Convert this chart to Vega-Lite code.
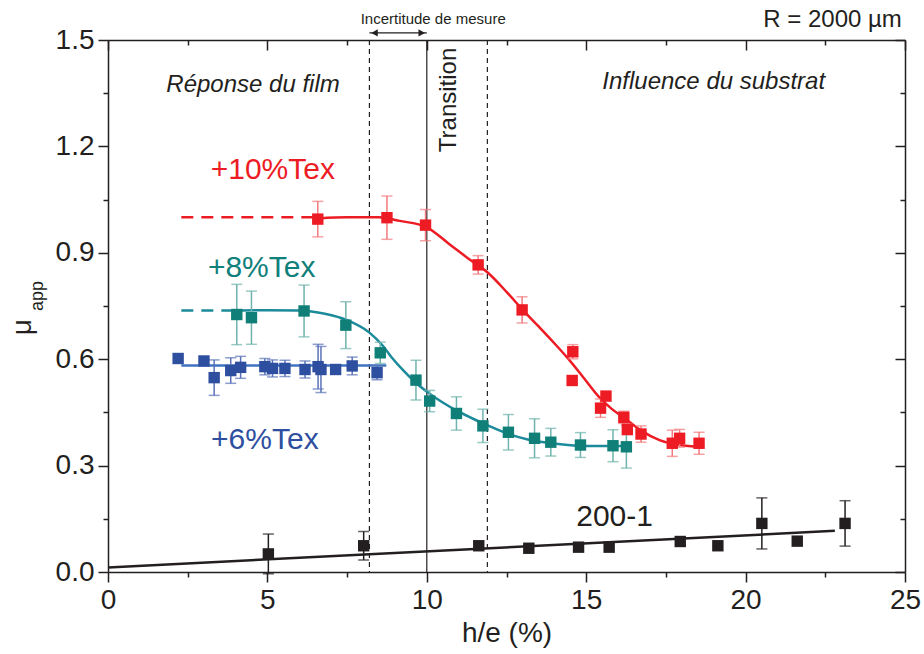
{
  "$schema": "https://vega.github.io/schema/vega-lite/v6.json",
  "width": 797,
  "height": 532,
  "autosize": {"type": "none"},
  "padding": {"left": 108, "top": 40, "right": 19, "bottom": 82},
  "background": "white",
  "config": {
    "font": "Liberation Sans",
    "view": {"stroke": null},
    "axis": {"grid": false, "domainColor": "#231f20", "tickColor": "#231f20", "domainWidth": 1.5, "tickWidth": 1.5, "labelColor": "#231f20", "titleColor": "#231f20", "labelFont": "Liberation Sans", "titleFont": "Liberation Sans", "titleFontWeight": "normal"}
  },
  "datasets": {
    "points": [
      {"s": "10", "x": 6.58, "y": 0.995}, {"s": "10", "x": 8.75, "y": 0.999}, {"s": "10", "x": 9.96, "y": 0.978},
      {"s": "10", "x": 11.61, "y": 0.866}, {"s": "10", "x": 12.99, "y": 0.739}, {"s": "10", "x": 14.58, "y": 0.621},
      {"s": "10", "x": 14.56, "y": 0.540}, {"s": "10", "x": 15.62, "y": 0.496}, {"s": "10", "x": 15.45, "y": 0.462},
      {"s": "10", "x": 16.18, "y": 0.436}, {"s": "10", "x": 16.29, "y": 0.402}, {"s": "10", "x": 16.72, "y": 0.389},
      {"s": "10", "x": 17.70, "y": 0.363}, {"s": "10", "x": 17.93, "y": 0.377}, {"s": "10", "x": 18.54, "y": 0.363},
      {"s": "8", "x": 4.04, "y": 0.726}, {"s": "8", "x": 4.50, "y": 0.717}, {"s": "8", "x": 6.15, "y": 0.736},
      {"s": "8", "x": 7.46, "y": 0.696}, {"s": "8", "x": 8.54, "y": 0.618}, {"s": "8", "x": 9.66, "y": 0.541},
      {"s": "8", "x": 10.09, "y": 0.482}, {"s": "8", "x": 10.93, "y": 0.447}, {"s": "8", "x": 11.76, "y": 0.412},
      {"s": "8", "x": 12.56, "y": 0.394}, {"s": "8", "x": 13.38, "y": 0.377}, {"s": "8", "x": 13.89, "y": 0.366},
      {"s": "8", "x": 14.82, "y": 0.358}, {"s": "8", "x": 15.84, "y": 0.356}, {"s": "8", "x": 16.26, "y": 0.353},
      {"s": "6", "x": 2.20, "y": 0.602}, {"s": "6", "x": 3.01, "y": 0.595}, {"s": "6", "x": 3.33, "y": 0.548},
      {"s": "6", "x": 3.85, "y": 0.568}, {"s": "6", "x": 4.16, "y": 0.577}, {"s": "6", "x": 4.92, "y": 0.579},
      {"s": "6", "x": 5.16, "y": 0.574}, {"s": "6", "x": 5.55, "y": 0.574}, {"s": "6", "x": 6.18, "y": 0.571},
      {"s": "6", "x": 6.59, "y": 0.579}, {"s": "6", "x": 6.68, "y": 0.571}, {"s": "6", "x": 7.14, "y": 0.571},
      {"s": "6", "x": 7.66, "y": 0.581}, {"s": "6", "x": 8.44, "y": 0.562},
      {"s": "b", "x": 5.03, "y": 0.051}, {"s": "b", "x": 8.02, "y": 0.074}, {"s": "b", "x": 11.63, "y": 0.074},
      {"s": "b", "x": 13.2, "y": 0.067}, {"s": "b", "x": 14.76, "y": 0.070}, {"s": "b", "x": 15.72, "y": 0.070},
      {"s": "b", "x": 17.95, "y": 0.086}, {"s": "b", "x": 19.13, "y": 0.074}, {"s": "b", "x": 20.51, "y": 0.137},
      {"s": "b", "x": 21.62, "y": 0.087}, {"s": "b", "x": 23.12, "y": 0.137}
    ],
    "errs": [
      {"s": "10e", "x": 6.58, "lo": 0.945, "hi": 1.045}, {"s": "10e", "x": 8.75, "lo": 0.938, "hi": 1.060},
      {"s": "10e", "x": 9.96, "lo": 0.934, "hi": 1.022}, {"s": "10e", "x": 11.61, "lo": 0.840, "hi": 0.892},
      {"s": "10e", "x": 12.99, "lo": 0.702, "hi": 0.776}, {"s": "10e", "x": 14.58, "lo": 0.601, "hi": 0.641},
      {"s": "10e", "x": 14.56, "lo": 0.530, "hi": 0.550}, {"s": "10e", "x": 15.45, "lo": 0.436, "hi": 0.488},
      {"s": "10e", "x": 16.18, "lo": 0.419, "hi": 0.453}, {"s": "10e", "x": 16.29, "lo": 0.387, "hi": 0.417},
      {"s": "10e", "x": 16.72, "lo": 0.366, "hi": 0.412}, {"s": "10e", "x": 17.70, "lo": 0.326, "hi": 0.400},
      {"s": "10e", "x": 17.93, "lo": 0.352, "hi": 0.402}, {"s": "10e", "x": 18.54, "lo": 0.332, "hi": 0.394},
      {"s": "8e", "x": 4.04, "lo": 0.641, "hi": 0.811}, {"s": "8e", "x": 4.50, "lo": 0.642, "hi": 0.792},
      {"s": "8e", "x": 6.15, "lo": 0.663, "hi": 0.809}, {"s": "8e", "x": 7.46, "lo": 0.630, "hi": 0.762},
      {"s": "8e", "x": 8.54, "lo": 0.588, "hi": 0.648}, {"s": "8e", "x": 9.66, "lo": 0.485, "hi": 0.597},
      {"s": "8e", "x": 10.09, "lo": 0.452, "hi": 0.512}, {"s": "8e", "x": 10.93, "lo": 0.400, "hi": 0.494},
      {"s": "8e", "x": 11.76, "lo": 0.365, "hi": 0.459}, {"s": "8e", "x": 12.56, "lo": 0.344, "hi": 0.444},
      {"s": "8e", "x": 13.38, "lo": 0.322, "hi": 0.432}, {"s": "8e", "x": 13.89, "lo": 0.327, "hi": 0.405},
      {"s": "8e", "x": 14.82, "lo": 0.323, "hi": 0.393}, {"s": "8e", "x": 15.84, "lo": 0.311, "hi": 0.401},
      {"s": "8e", "x": 16.26, "lo": 0.293, "hi": 0.413},
      {"s": "6e", "x": 3.33, "lo": 0.498, "hi": 0.598}, {"s": "6e", "x": 3.85, "lo": 0.532, "hi": 0.604},
      {"s": "6e", "x": 4.16, "lo": 0.546, "hi": 0.608}, {"s": "6e", "x": 4.92, "lo": 0.556, "hi": 0.602},
      {"s": "6e", "x": 5.16, "lo": 0.550, "hi": 0.598}, {"s": "6e", "x": 5.55, "lo": 0.551, "hi": 0.597},
      {"s": "6e", "x": 6.18, "lo": 0.547, "hi": 0.595}, {"s": "6e", "x": 6.59, "lo": 0.516, "hi": 0.642},
      {"s": "6e", "x": 6.68, "lo": 0.506, "hi": 0.636}, {"s": "6e", "x": 7.14, "lo": 0.561, "hi": 0.581},
      {"s": "6e", "x": 7.66, "lo": 0.556, "hi": 0.606}, {"s": "6e", "x": 8.44, "lo": 0.542, "hi": 0.582},
      {"s": "be", "x": 5.03, "lo": -0.005, "hi": 0.107}, {"s": "be", "x": 8.02, "lo": 0.034, "hi": 0.114},
      {"s": "be", "x": 20.51, "lo": 0.065, "hi": 0.209}, {"s": "be", "x": 23.12, "lo": 0.073, "hi": 0.201}
    ],
    "fits": [
      {"s": "10f", "x": 6.6, "y": 0.997}, {"s": "10f", "x": 7.5, "y": 1.0}, {"s": "10f", "x": 8.5, "y": 1.0},
      {"s": "10f", "x": 9.15, "y": 0.99}, {"s": "10f", "x": 10.0, "y": 0.972}, {"s": "10f", "x": 10.7, "y": 0.925},
      {"s": "10f", "x": 11.3, "y": 0.884}, {"s": "10f", "x": 11.9, "y": 0.845}, {"s": "10f", "x": 12.5, "y": 0.79},
      {"s": "10f", "x": 13.0, "y": 0.74}, {"s": "10f", "x": 13.5, "y": 0.693}, {"s": "10f", "x": 14.0, "y": 0.645},
      {"s": "10f", "x": 14.4, "y": 0.605}, {"s": "10f", "x": 14.9, "y": 0.55}, {"s": "10f", "x": 15.4, "y": 0.494},
      {"s": "10f", "x": 15.8, "y": 0.46}, {"s": "10f", "x": 16.2, "y": 0.434}, {"s": "10f", "x": 16.7, "y": 0.4},
      {"s": "10f", "x": 17.3, "y": 0.372}, {"s": "10f", "x": 17.8, "y": 0.36}, {"s": "10f", "x": 18.2, "y": 0.355},
      {"s": "10f", "x": 18.7, "y": 0.353},
      {"s": "8f", "x": 3.95, "y": 0.737}, {"s": "8f", "x": 5.0, "y": 0.738}, {"s": "8f", "x": 6.0, "y": 0.737},
      {"s": "8f", "x": 6.8, "y": 0.728}, {"s": "8f", "x": 7.5, "y": 0.71}, {"s": "8f", "x": 8.2, "y": 0.675},
      {"s": "8f", "x": 8.6, "y": 0.64}, {"s": "8f", "x": 8.9, "y": 0.605}, {"s": "8f", "x": 9.3, "y": 0.565},
      {"s": "8f", "x": 9.7, "y": 0.53}, {"s": "8f", "x": 10.1, "y": 0.502}, {"s": "8f", "x": 10.5, "y": 0.478},
      {"s": "8f", "x": 11.0, "y": 0.452}, {"s": "8f", "x": 11.5, "y": 0.43}, {"s": "8f", "x": 12.0, "y": 0.41},
      {"s": "8f", "x": 12.6, "y": 0.388}, {"s": "8f", "x": 13.2, "y": 0.373}, {"s": "8f", "x": 13.9, "y": 0.363},
      {"s": "8f", "x": 14.6, "y": 0.357}, {"s": "8f", "x": 15.4, "y": 0.355}, {"s": "8f", "x": 16.3, "y": 0.355},
      {"s": "6f", "x": 2.3, "y": 0.582}, {"s": "6f", "x": 8.73, "y": 0.582},
      {"s": "bf", "x": 0.0, "y": 0.013}, {"s": "bf", "x": 22.8, "y": 0.116}
    ],
    "dashed": [
      {"s": "10f", "x": 2.3, "y": 1.0}, {"s": "10f", "x": 6.5, "y": 1.0},
      {"s": "8f", "x": 2.3, "y": 0.737}, {"s": "8f", "x": 3.9, "y": 0.737}
    ]
  },
  "layer": [
    {
      "data": {"values": [{"x": 0, "y": 0}]},
      "mark": {"type": "point", "opacity": 0},
      "encoding": {
        "x": {"field": "x", "type": "quantitative", "scale": {"domain": [0, 25], "nice": false, "zero": false},
          "axis": {"orient": "bottom", "values": [0, 2.5, 5, 7.5, 10, 12.5, 15, 17.5, 20, 22.5, 25],
            "labelExpr": "datum.value % 5 === 0 ? format(datum.value, 'd') : ''",
            "tickSize": {"condition": {"test": "datum.value % 5 === 0", "value": 10}, "value": 5},
            "labelFontSize": 28, "labelPadding": 4, "title": "h/e (%)", "titleFontSize": 28, "titlePadding": 5, "labelFlush": false, "labelOverlap": false}},
        "y": {"field": "y", "type": "quantitative", "scale": {"domain": [0, 1.5], "nice": false, "zero": false},
          "axis": {"orient": "left", "values": [0, 0.15, 0.3, 0.45, 0.6, 0.75, 0.9, 1.05, 1.2, 1.35, 1.5],
            "labelExpr": "abs(datum.value*10/3 - round(datum.value*10/3)) < 0.01 ? format(datum.value, '.1f') : ''",
            "tickSize": {"condition": {"test": "abs(datum.value*10/3 - round(datum.value*10/3)) < 0.01", "value": 10}, "value": 5},
            "labelFontSize": 28, "labelPadding": 4, "title": null, "labelOverlap": false, "labelFlush": false}}
      }
    },
    {
      "data": {"values": [{"x": 0, "y": 0}]},
      "mark": {"type": "point", "opacity": 0},
      "encoding": {
        "x": {"field": "x", "type": "quantitative", "scale": {"domain": [0, 25], "nice": false, "zero": false},
          "axis": {"orient": "top", "values": [0, 2.5, 5, 7.5, 10, 12.5, 15, 17.5, 20, 22.5, 25], "labels": false, "title": null,
            "tickSize": {"condition": {"test": "datum.value % 5 === 0", "value": -10}, "value": -5}}},
        "y": {"field": "y", "type": "quantitative", "scale": {"domain": [0, 1.5], "nice": false, "zero": false},
          "axis": {"orient": "right", "values": [0, 0.15, 0.3, 0.45, 0.6, 0.75, 0.9, 1.05, 1.2, 1.35, 1.5], "labels": false, "title": null,
            "tickSize": {"condition": {"test": "abs(datum.value*10/3 - round(datum.value*10/3)) < 0.01", "value": -10}, "value": -5}}}
      }
    },
    {
      "data": {"values": [{"x": 8.2}, {"x": 11.9}]},
      "mark": {"type": "rule", "color": "#231f20", "strokeWidth": 1.2, "strokeDash": [5, 4]},
      "encoding": {
        "x": {"field": "x", "type": "quantitative", "scale": {"domain": [0, 25], "nice": false, "zero": false}, "axis": null}
      }
    },
    {
      "data": {"values": [{"x": 10}]},
      "mark": {"type": "rule", "color": "#231f20", "strokeWidth": 1.2},
      "encoding": {"x": {"field": "x", "type": "quantitative", "scale": {"domain": [0, 25], "nice": false, "zero": false}, "axis": null}}
    },
    {
      "data": {"name": "fits"},
      "mark": {"type": "line", "strokeWidth": 2.5, "interpolate": "monotone"},
      "encoding": {
        "x": {"field": "x", "type": "quantitative", "scale": {"domain": [0, 25], "nice": false, "zero": false}, "axis": null},
        "y": {"field": "y", "type": "quantitative", "scale": {"domain": [0, 1.5], "nice": false, "zero": false}, "axis": null},
        "color": {"field": "s", "type": "nominal", "legend": null,
          "scale": {"domain": ["10", "8", "6", "b", "10f", "8f", "6f", "bf", "10e", "8e", "6e", "be"],
            "range": ["#ed1c24", "#0f7f77", "#2e4f9f", "#231f20", "#ed1c24", "#1b8a9a", "#3f73c2", "#231f20", "#f27a7e", "#6fb3ad", "#5a72b8", "#231f20"]}},
        "detail": {"field": "s"}
      }
    },
    {
      "data": {"name": "dashed"},
      "mark": {"type": "line", "strokeWidth": 2.5, "strokeDash": [12, 8]},
      "encoding": {
        "x": {"field": "x", "type": "quantitative", "scale": {"domain": [0, 25], "nice": false, "zero": false}, "axis": null},
        "y": {"field": "y", "type": "quantitative", "scale": {"domain": [0, 1.5], "nice": false, "zero": false}, "axis": null},
        "color": {"field": "s", "type": "nominal", "legend": null},
        "detail": {"field": "s"}
      }
    },
    {
      "data": {"name": "errs"},
      "mark": {"type": "errorbar", "ticks": true, "size": 11, "thickness": 1.5},
      "encoding": {
        "x": {"field": "x", "type": "quantitative", "scale": {"domain": [0, 25], "nice": false, "zero": false}, "axis": null},
        "y": {"field": "lo", "type": "quantitative", "scale": {"domain": [0, 1.5], "nice": false, "zero": false}, "axis": null},
        "y2": {"field": "hi"},
        "color": {"field": "s", "type": "nominal", "legend": null}
      }
    },
    {
      "data": {"name": "points"},
      "mark": {"type": "point", "shape": "square", "filled": true, "size": 130, "opacity": 1},
      "encoding": {
        "x": {"field": "x", "type": "quantitative", "scale": {"domain": [0, 25], "nice": false, "zero": false}, "axis": null},
        "y": {"field": "y", "type": "quantitative", "scale": {"domain": [0, 1.5], "nice": false, "zero": false}, "axis": null},
        "color": {"field": "s", "type": "nominal", "legend": null}
      }
    },
    {
      "data": {"values": [{"x": 8.2, "x2": 10.0, "y": 1.52}]},
      "mark": {"type": "rule", "color": "#231f20", "strokeWidth": 1.3},
      "encoding": {
        "x": {"field": "x", "type": "quantitative", "scale": {"domain": [0, 25], "nice": false, "zero": false}, "axis": null},
        "x2": {"field": "x2"},
        "y": {"field": "y", "type": "quantitative", "scale": {"domain": [0, 1.5], "nice": false, "zero": false}, "axis": null}
      }
    },
    {
      "data": {"values": [{"x": 8.36, "y": 1.52}]},
      "mark": {"type": "point", "shape": "triangle-left", "filled": true, "size": 55, "color": "#231f20", "opacity": 1},
      "encoding": {
        "x": {"field": "x", "type": "quantitative", "scale": {"domain": [0, 25], "nice": false, "zero": false}, "axis": null},
        "y": {"field": "y", "type": "quantitative", "scale": {"domain": [0, 1.5], "nice": false, "zero": false}, "axis": null}
      }
    },
    {
      "data": {"values": [{"x": 9.84, "y": 1.52}]},
      "mark": {"type": "point", "shape": "triangle-right", "filled": true, "size": 55, "color": "#231f20", "opacity": 1},
      "encoding": {
        "x": {"field": "x", "type": "quantitative", "scale": {"domain": [0, 25], "nice": false, "zero": false}, "axis": null},
        "y": {"field": "y", "type": "quantitative", "scale": {"domain": [0, 1.5], "nice": false, "zero": false}, "axis": null}
      }
    },
    {
      "data": {"values": [{"t": "Incertitude de mesure", "x": 10.2, "y": 1.559}]},
      "mark": {"type": "text", "fontSize": 15, "color": "#231f20", "align": "center", "baseline": "middle"},
      "encoding": {
        "x": {"field": "x", "type": "quantitative", "scale": {"domain": [0, 25], "nice": false, "zero": false}, "axis": null},
        "y": {"field": "y", "type": "quantitative", "scale": {"domain": [0, 1.5], "nice": false, "zero": false}, "axis": null},
        "text": {"field": "t"}
      }
    },
    {
      "data": {"values": [{"t": "R = 2000 µm", "x": 24.9, "y": 1.555}]},
      "mark": {"type": "text", "fontSize": 24, "color": "#231f20", "align": "right", "baseline": "middle"},
      "encoding": {
        "x": {"field": "x", "type": "quantitative", "scale": {"domain": [0, 25], "nice": false, "zero": false}, "axis": null},
        "y": {"field": "y", "type": "quantitative", "scale": {"domain": [0, 1.5], "nice": false, "zero": false}, "axis": null},
        "text": {"field": "t"}
      }
    },
    {
      "data": {"values": [{"t": "Réponse du film", "x": 4.55, "y": 1.373}, {"t": "Influence du substrat", "x": 19.0, "y": 1.381}]},
      "mark": {"type": "text", "fontSize": 24, "fontStyle": "italic", "color": "#231f20", "align": "center", "baseline": "middle"},
      "encoding": {
        "x": {"field": "x", "type": "quantitative", "scale": {"domain": [0, 25], "nice": false, "zero": false}, "axis": null},
        "y": {"field": "y", "type": "quantitative", "scale": {"domain": [0, 1.5], "nice": false, "zero": false}, "axis": null},
        "text": {"field": "t"}
      }
    },
    {
      "data": {"values": [{"t": "Transition", "x": 10.69, "y": 1.331}]},
      "mark": {"type": "text", "fontSize": 24, "angle": 270, "color": "#231f20", "align": "center", "baseline": "middle"},
      "encoding": {
        "x": {"field": "x", "type": "quantitative", "scale": {"domain": [0, 25], "nice": false, "zero": false}, "axis": null},
        "y": {"field": "y", "type": "quantitative", "scale": {"domain": [0, 1.5], "nice": false, "zero": false}, "axis": null},
        "text": {"field": "t"}
      }
    },
    {
      "data": {"values": [{"t": "+10%Tex", "x": 5.17, "y": 1.133}]},
      "mark": {"type": "text", "fontSize": 30, "color": "#ed1c24", "align": "center", "baseline": "middle"},
      "encoding": {
        "x": {"field": "x", "type": "quantitative", "scale": {"domain": [0, 25], "nice": false, "zero": false}, "axis": null},
        "y": {"field": "y", "type": "quantitative", "scale": {"domain": [0, 1.5], "nice": false, "zero": false}, "axis": null},
        "text": {"field": "t"}
      }
    },
    {
      "data": {"values": [{"t": "+8%Tex", "x": 4.82, "y": 0.858}]},
      "mark": {"type": "text", "fontSize": 30, "color": "#10807a", "align": "center", "baseline": "middle"},
      "encoding": {
        "x": {"field": "x", "type": "quantitative", "scale": {"domain": [0, 25], "nice": false, "zero": false}, "axis": null},
        "y": {"field": "y", "type": "quantitative", "scale": {"domain": [0, 1.5], "nice": false, "zero": false}, "axis": null},
        "text": {"field": "t"}
      }
    },
    {
      "data": {"values": [{"t": "+6%Tex", "x": 4.92, "y": 0.372}]},
      "mark": {"type": "text", "fontSize": 30, "color": "#2e4f9f", "align": "center", "baseline": "middle"},
      "encoding": {
        "x": {"field": "x", "type": "quantitative", "scale": {"domain": [0, 25], "nice": false, "zero": false}, "axis": null},
        "y": {"field": "y", "type": "quantitative", "scale": {"domain": [0, 1.5], "nice": false, "zero": false}, "axis": null},
        "text": {"field": "t"}
      }
    },
    {
      "data": {"values": [{"t": "200-1", "x": 15.89, "y": 0.155}]},
      "mark": {"type": "text", "fontSize": 30, "color": "#231f20", "align": "center", "baseline": "middle"},
      "encoding": {
        "x": {"field": "x", "type": "quantitative", "scale": {"domain": [0, 25], "nice": false, "zero": false}, "axis": null},
        "y": {"field": "y", "type": "quantitative", "scale": {"domain": [0, 1.5], "nice": false, "zero": false}, "axis": null},
        "text": {"field": "t"}
      }
    },
    {
      "data": {"values": [{"t": "μ", "x": -2.4, "y": 0.69}]},
      "mark": {"type": "text", "fontSize": 28, "angle": 270, "color": "#231f20", "align": "center", "baseline": "alphabetic"},
      "encoding": {
        "x": {"field": "x", "type": "quantitative", "scale": {"domain": [0, 25], "nice": false, "zero": false}, "axis": null},
        "y": {"field": "y", "type": "quantitative", "scale": {"domain": [0, 1.5], "nice": false, "zero": false}, "axis": null},
        "text": {"field": "t"}
      }
    },
    {
      "data": {"values": [{"t": "app", "x": -2.05, "y": 0.778}]},
      "mark": {"type": "text", "fontSize": 18, "angle": 270, "color": "#231f20", "align": "center", "baseline": "alphabetic"},
      "encoding": {
        "x": {"field": "x", "type": "quantitative", "scale": {"domain": [0, 25], "nice": false, "zero": false}, "axis": null},
        "y": {"field": "y", "type": "quantitative", "scale": {"domain": [0, 1.5], "nice": false, "zero": false}, "axis": null},
        "text": {"field": "t"}
      }
    }
  ],
  "resolve": {"axis": {"x": "independent", "y": "independent"}}
}
